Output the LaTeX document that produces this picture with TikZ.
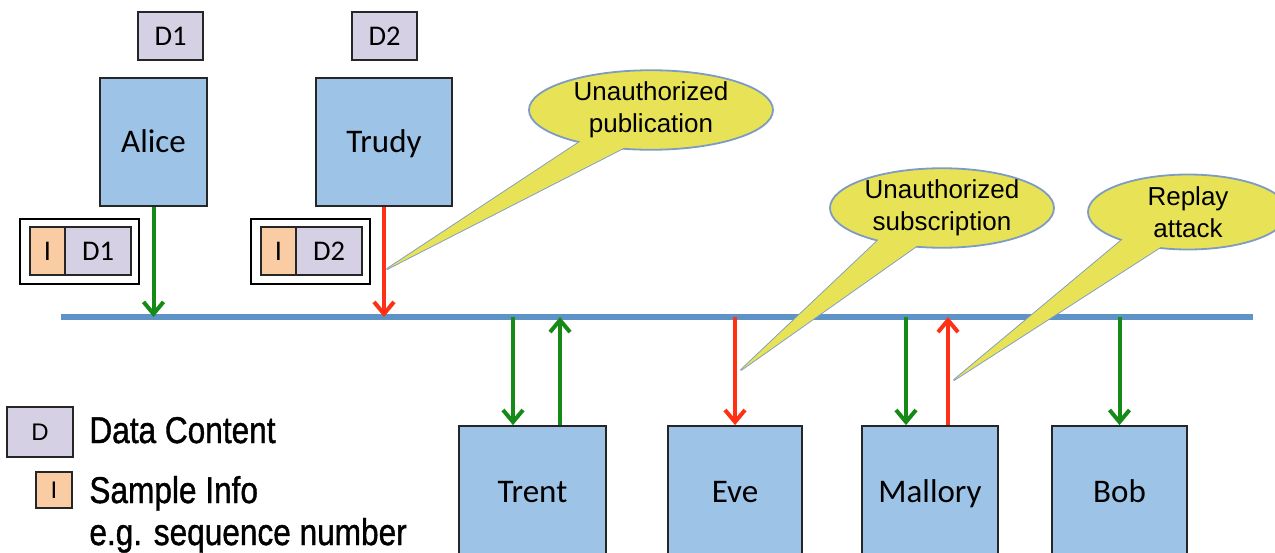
\documentclass[tikz,border=0pt]{standalone}
\usepackage{graphicx}
\usepackage{fontspec}
\setmainfont{Carlito}
\newfontfamily\arialfont{Liberation Sans}
\newfontfamily\legendfont[FakeBold=1.2]{Liberation Sans}
\usetikzlibrary{arrows.meta,shapes.geometric,calc,shadows}
\pgfdeclarelayer{back}
\pgfsetlayers{back,main}

\definecolor{actorfill}{RGB}{157,195,230}
\definecolor{edgegray}{RGB}{38,38,38}
\definecolor{datafill}{RGB}{214,208,228}
\definecolor{infofill}{RGB}{250,204,164}
\definecolor{busblue}{RGB}{94,147,200}
\definecolor{okgreen}{RGB}{22,138,22}
\definecolor{badred}{RGB}{255,48,20}
\definecolor{calloutfill}{RGB}{232,227,86}
\definecolor{calloutedge}{RGB}{125,155,195}

\tikzset{
  actor/.style={draw=edgegray, line width=0.9pt, fill=actorfill, inner sep=0pt,
    font=\fontsize{16.5}{18}\selectfont, text height=10.6pt, text depth=0pt,
    drop shadow={shadow xshift=0.6pt, shadow yshift=-0.6pt, opacity=0.35}},
  datacell/.style={draw=edgegray, line width=0.8pt, fill=datafill, minimum height=24pt,
    inner sep=0pt, font=\fontsize{14.25}{16}\selectfont, text height=9.2pt, text depth=0pt,
    drop shadow={shadow xshift=0.6pt, shadow yshift=-0.6pt, opacity=0.35}},
  infocell/.style={datacell, fill=infofill},
  packet/.style={draw=black, line width=1.4pt, inner sep=0pt,
    minimum width=59.5pt, minimum height=32.5pt},
  bus/.style={draw=busblue, line width=3pt},
  flow/.style={line width=2pt, -{Straight Barb[length=6pt,width=10pt]}},
  okflow/.style={flow, draw=okgreen},
  badflow/.style={flow, draw=badred},
  callout/.style={ellipse, fill=calloutfill, draw=calloutedge, line width=0.9pt,
    inner sep=0pt, align=center, font=\arialfont\fontsize{13}{16}\selectfont},
  wedge/.style={fill=calloutfill, draw=calloutedge, line width=0.9pt, line join=round},
  wedgefill/.style={fill=calloutfill},
  legendtext/.style={anchor=base west, inner sep=0pt, font=\legendfont\fontsize{15.8}{18}\selectfont},
  legendcell/.style={font=\arialfont\fontsize{12}{13}\selectfont, text height=8.6pt},
}

\begin{document}
\begin{tikzpicture}[x=0.5pt,y=-0.5pt]
\useasboundingbox (0,0) rectangle (1275,552);
\clip (0,0) rectangle (1275,552);

% publishers and their data
\node[actor, minimum width=53.5pt, minimum height=64pt] (alice) at (153.5,142) {Alice};
\node[actor, minimum width=68pt, minimum height=64pt] (trudy) at (384,142) {Trudy};
\node[datacell, minimum width=32.5pt] (d1) at (170.5,36) {D1};
\node[datacell, minimum width=32.5pt] (d2) at (384.5,36) {D2};

% samples on the wire: info + data
\node[packet] (pk1) at (79.5,251.5) {};
\node[infocell, minimum width=17.5pt] (pk1i) at (47.5,251) {I};
\node[datacell, minimum width=33pt] (pk1d) at (98,251) {D1};
\node[packet] (pk2) at (310.5,251.5) {};
\node[infocell, minimum width=17.5pt] (pk2i) at (278.5,251) {I};
\node[datacell, minimum width=33pt] (pk2d) at (329,251) {D2};

% the shared data bus
\coordinate (busL) at (61,317);
\coordinate (busR) at (1253,317);
\begin{pgfonlayer}{back}
  \draw[bus] (busL) -- (busR);
\end{pgfonlayer}

% subscribers
\node[actor, minimum width=73.5pt, minimum height=66pt] (trent) at (532.5,492) {Trent};
\node[actor, minimum width=67pt, minimum height=66pt] (eve) at (735,492) {Eve};
\node[actor, minimum width=68pt, minimum height=66pt] (mallory) at (930,492) {Mallory};
\node[actor, minimum width=67.5pt, minimum height=66pt] (bob) at (1119.5,492) {Bob};

% data flows
\draw[okflow] (alice.south) -- (alice.south |- busL);
\draw[badflow] (trudy.south) -- (trudy.south |- busL);
\draw[okflow] ($(trent.north |- busL)+(-9.75pt,0)$) -- ($(trent.north)+(-9.75pt,0)$);
\draw[okflow] ($(trent.north)+(13.75pt,0)$) -- ($(trent.north |- busL)+(13.75pt,0)$);
\draw[badflow] (eve.north |- busL) -- (eve.north);
\draw[okflow] ($(mallory.north |- busL)+(-12pt,0)$) -- ($(mallory.north)+(-12pt,0)$);
\draw[badflow] ($(mallory.north)+(9pt,0)$) -- ($(mallory.north |- busL)+(9pt,0)$);
\draw[okflow] (bob.north |- busL) -- (bob.north);

% attack callouts
\node[callout, minimum width=122pt, minimum height=37pt] (pub) at (651,110) {Unauthorized\\publication};
\node[callout, minimum width=112pt, minimum height=36.5pt] (sub) at (942,208) {Unauthorized\\subscription};
\node[callout, minimum width=100pt, minimum height=37.5pt] (rep) at (1188,212) {Replay\\attack};
\coordinate (pubTip) at (387,269);
\coordinate (subTip) at (741,370);
\coordinate (repTip) at (954,380);

\begin{pgfonlayer}{back}
  \path[wedge] ($(pub.center)!0.85!(pub.203)$) -- (pubTip) -- ($(pub.center)!0.85!(pub.240)$) -- cycle;
  \path[wedge] ($(sub.center)!0.85!(sub.205)$) -- (subTip) -- ($(sub.center)!0.85!(sub.240)$) -- cycle;
  \path[wedge] ($(rep.center)!0.85!(rep.201)$) -- (repTip) -- ($(rep.center)!0.85!(rep.235)$) -- cycle;
\end{pgfonlayer}
\path[wedgefill] ($(pub.center)!0.85!(pub.203)$) -- (pubTip) -- ($(pub.center)!0.85!(pub.240)$) -- cycle;
\path[wedgefill] ($(sub.center)!0.85!(sub.205)$) -- (subTip) -- ($(sub.center)!0.85!(sub.240)$) -- cycle;
\path[wedgefill] ($(rep.center)!0.85!(rep.201)$) -- (repTip) -- ($(rep.center)!0.85!(rep.235)$) -- cycle;

% legend
\node[datacell, legendcell, minimum width=33pt, minimum height=25pt] (legD) at (40,432) {D};
\node[infocell, legendcell, minimum width=18pt, minimum height=18pt] (legI) at (54,490) {I};
\node[legendtext] (legDtxt) at (89,443) {\scalebox{1}[1.18]{Data Content}};
\node[legendtext] (legItxt) at (89,503) {\scalebox{1}[1.18]{Sample Info}};
\node[legendtext] (legIex) at (89,545) {\scalebox{1}[1.18]{e.g. sequence number}};
\end{tikzpicture}
\end{document}
